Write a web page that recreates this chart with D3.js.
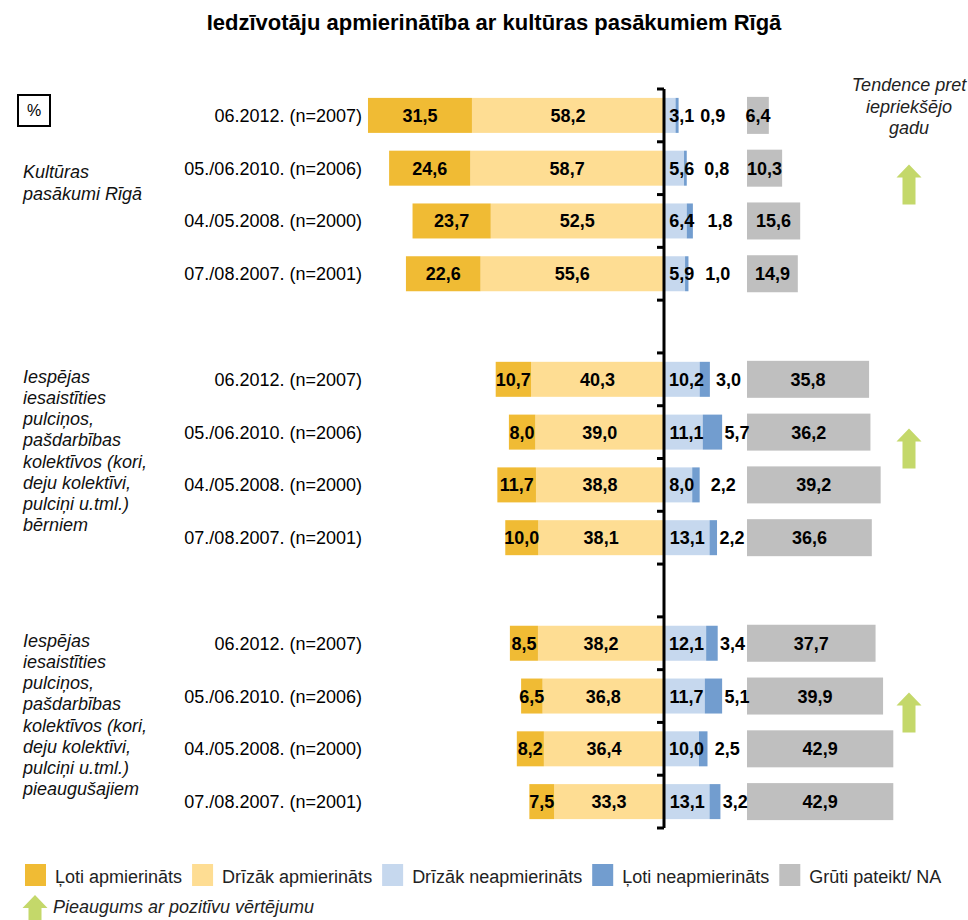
<!DOCTYPE html>
<html lang="lv">
<head>
<meta charset="utf-8">
<title>Iedzīvotāju apmierinātība ar kultūras pasākumiem Rīgā</title>
<script src="https://cdn.jsdelivr.net/npm/d3@7"></script>
<style>
    body { margin: 0; background: #fff; }
    svg { display: block; font-family: 'Liberation Sans', Arial, sans-serif; }
</style>
</head>
<body>
<div id="chart"></div>
<script>
// ============================================================
// DATI
// ============================================================

const periods = ['06.2012. (n=2007)', '05./06.2010. (n=2006)', '04./05.2008. (n=2000)', '07./08.2007. (n=2001)'];

const groupLabels = [
    ['Kultūras', 'pasākumi Rīgā'],
    ['Iespējas', 'iesaistīties', 'pulciņos,', 'pašdarbības', 'kolektīvos (kori,', 'deju kolektīvi,', 'pulciņi u.tml.)', 'bērniem'],
    ['Iespējas', 'iesaistīties', 'pulciņos,', 'pašdarbības', 'kolektīvos (kori,', 'deju kolektīvi,', 'pulciņi u.tml.)', 'pieaugušajiem']
];

// vērtības pa rindām: 3 grupas x 4 periodi
const veryYes   = [31.5, 24.6, 23.7, 22.6, 10.7, 8.0, 11.7, 10.0, 8.5, 6.5, 8.2, 7.5];
const ratherYes = [58.2, 58.7, 52.5, 55.6, 40.3, 39.0, 38.8, 38.1, 38.2, 36.8, 36.4, 33.3];
const ratherNo  = [3.1, 5.6, 6.4, 5.9, 10.2, 11.1, 8.0, 13.1, 12.1, 11.7, 10.0, 13.1];
const veryNo    = [0.9, 0.8, 1.8, 1.0, 3.0, 5.7, 2.2, 2.2, 3.4, 5.1, 2.5, 3.2];
const hardToSay = [6.4, 10.3, 15.6, 14.9, 35.8, 36.2, 39.2, 36.6, 37.7, 39.9, 42.9, 42.9];

const trend = ['up', 'up', 'up'];

const legendLabels = ['Ļoti apmierināts', 'Drīzāk apmierināts', 'Drīzāk neapmierināts', 'Ļoti neapmierināts', 'Grūti pateikt/ NA'];
const colors = ['#f0bb34', '#fedd93', '#c6d8ee', '#729dcf', '#bfbfbf'];
const arrowColor = '#c4d86a';

// ============================================================
// ZĪMĒŠANA
// ============================================================

const width = 968, height = 920;
const fmt = d3.formatLocale({ decimal: ',', thousands: ' ', grouping: [3], currency: ['', '€'] }).format('.1f');

const svg = d3.select('#chart').append('svg')
    .attr('width', width)
    .attr('height', height);

// 14 vietas: 3 grupas x 4 rindas + 2 tukšas starp grupām
const y = d3.scaleBand().domain(d3.range(14)).range([89, 828]).padding(0);
const slotOf = i => Math.floor(i / 4) * 5 + (i % 4);
const barH = 35, naH = 37;

const xPos = d3.scaleLinear().domain([0, 100]).range([664, 334]);
const xNeg = d3.scaleLinear().domain([0, 100]).range([665, 1005]);
const xNa = d3.scaleLinear().domain([0, 100]).range([747, 1088]);

const rows = veryYes.map((v, i) => ({
    i,
    period: periods[i % 4],
    veryYes: v,
    ratherYes: ratherYes[i],
    ratherNo: ratherNo[i],
    veryNo: veryNo[i],
    na: hardToSay[i],
    cy: y(slotOf(i)) + y.bandwidth() / 2
}));

// virsraksts
svg.append('text')
    .attr('x', 494).attr('y', 30)
    .attr('text-anchor', 'middle')
    .style('font-size', '22px').style('font-weight', 'bold')
    .text('Iedzīvotāju apmierinātība ar kultūras pasākumiem Rīgā');

// % rāmis
svg.append('rect')
    .attr('x', 18).attr('y', 95).attr('width', 32).attr('height', 31)
    .attr('fill', 'none').attr('stroke', '#000').attr('stroke-width', 2);
svg.append('text')
    .attr('x', 34).attr('y', 116).attr('text-anchor', 'middle')
    .style('font-size', '16px').text('%');

// tendences virsraksts
svg.append('text')
    .attr('text-anchor', 'middle')
    .style('font-size', '18px').style('font-style', 'italic').attr('fill', '#222')
    .selectAll('tspan')
    .data(['Tendence pret', 'iepriekšējo', 'gadu'])
    .join('tspan')
    .attr('x', 909)
    .attr('y', (d, k) => 91 + k * 21.5)
    .text(d => d);

const bars = svg.append('g');

// pozitīvā puse (pa kreisi)
const row = bars.selectAll('g.row').data(rows).join('g').attr('class', 'row');

row.append('rect')
    .attr('x', d => xPos(d.ratherYes))
    .attr('y', d => d.cy - barH / 2)
    .attr('width', d => xPos(0) - xPos(d.ratherYes))
    .attr('height', barH)
    .attr('fill', colors[1]);

row.append('rect')
    .attr('x', d => xPos(d.ratherYes + d.veryYes))
    .attr('y', d => d.cy - barH / 2)
    .attr('width', d => xPos(d.ratherYes) - xPos(d.ratherYes + d.veryYes))
    .attr('height', barH)
    .attr('fill', colors[0]);

// negatīvā puse (pa labi)
row.append('rect')
    .attr('x', xNeg(0))
    .attr('y', d => d.cy - barH / 2)
    .attr('width', d => xNeg(d.ratherNo) - xNeg(0))
    .attr('height', barH)
    .attr('fill', colors[2]);

row.append('rect')
    .attr('x', d => xNeg(d.ratherNo))
    .attr('y', d => d.cy - barH / 2)
    .attr('width', d => xNeg(d.ratherNo + d.veryNo) - xNeg(d.ratherNo))
    .attr('height', barH)
    .attr('fill', colors[3]);

// grūti pateikt
row.append('rect')
    .attr('x', xNa(0))
    .attr('y', d => d.cy - naH / 2)
    .attr('width', d => xNa(d.na) - xNa(0))
    .attr('height', naH)
    .attr('fill', colors[4]);

// vērtību teksti
const valueText = (sel, xFn, val) => sel.append('text')
    .attr('x', xFn)
    .attr('y', d => d.cy)
    .attr('dy', '0.36em')
    .attr('text-anchor', 'middle')
    .style('font-size', '18px').style('font-weight', 'bold')
    .text(d => fmt(val(d)));

valueText(row, d => (xPos(d.ratherYes) + xPos(d.ratherYes + d.veryYes)) / 2, d => d.veryYes);
valueText(row, d => (xPos(0) + xPos(d.ratherYes)) / 2, d => d.ratherYes);
valueText(row, d => Math.max((xNeg(0) + xNeg(d.ratherNo)) / 2, xNeg(0) + 3 + fmt(d.ratherNo).length * 4.6), d => d.ratherNo);
valueText(row, d => {
    const end = xNeg(d.ratherNo + d.veryNo);
    return Math.max((end + xNa(0)) / 2, end + 2 + fmt(d.veryNo).length * 4.3);
}, d => d.veryNo);
valueText(row, d => (xNa(0) + xNa(d.na)) / 2, d => d.na);

// perioda nosaukumi
row.append('text')
    .attr('x', 362)
    .attr('y', d => d.cy)
    .attr('dy', '0.36em')
    .attr('text-anchor', 'end')
    .style('font-size', '18px')
    .text(d => d.period);

// ass ar iedaļām
const axis = svg.append('g');
axis.append('line')
    .attr('x1', 664).attr('x2', 664)
    .attr('y1', y.range()[0]).attr('y2', y.range()[1])
    .attr('stroke', '#000').attr('stroke-width', 3);
axis.selectAll('line.tick')
    .data(d3.range(15))
    .join('line')
    .attr('class', 'tick')
    .attr('x1', 657).attr('x2', 664)
    .attr('y1', k => y.range()[0] + k * y.step())
    .attr('y2', k => y.range()[0] + k * y.step())
    .attr('stroke', '#000').attr('stroke-width', 3);

// grupu nosaukumi
groupLabels.forEach((lines, g) => {
    const mid = y(g * 5) + 2 * y.step() - (lines.length > 2 ? 8 : 12);
    svg.append('text')
        .style('font-size', '18px').style('font-style', 'italic').attr('fill', '#111')
        .selectAll('tspan')
        .data(lines)
        .join('tspan')
        .attr('x', 23)
        .attr('y', (d, k) => mid + (k - (lines.length - 1) / 2) * 21.2)
        .attr('dy', '0.36em')
        .text(d => d);
});

// tendences bultas
const arrowPath = (cx, top) => `M${cx},${top} L${cx + 12.5},${top + 13} L${cx + 6.5},${top + 13} L${cx + 6.5},${top + 40} ` +
    `L${cx - 6.5},${top + 40} L${cx - 6.5},${top + 13} L${cx - 12.5},${top + 13} Z`;

trend.forEach((t, g) => {
    if (t !== 'up') return;
    const c = y(g * 5 + 2) - 10;
    svg.append('path').attr('d', arrowPath(909, c - 20)).attr('fill', arrowColor);
});

// ============================================================
// LEĢENDA
// ============================================================

const legend = svg.append('g');
let lx = 25;
legendLabels.forEach((label, k) => {
    legend.append('rect')
        .attr('x', lx).attr('y', 864).attr('width', 21).attr('height', 22)
        .attr('fill', colors[k]);
    const t = legend.append('text')
        .attr('x', lx + 30).attr('y', 877).attr('dy', '0.36em')
        .style('font-size', '18px').attr('fill', '#222')
        .text(label);
    lx += 30 + t.node().getComputedTextLength() + 10;
});

legend.append('path').attr('d', arrowPath(35, 895)).attr('fill', arrowColor);
legend.append('text')
    .attr('x', 53).attr('y', 907).attr('dy', '0.36em')
    .style('font-size', '18px').style('font-style', 'italic').attr('fill', '#222')
    .text('Pieaugums ar pozitīvu vērtējumu');
</script>
</body>
</html>
